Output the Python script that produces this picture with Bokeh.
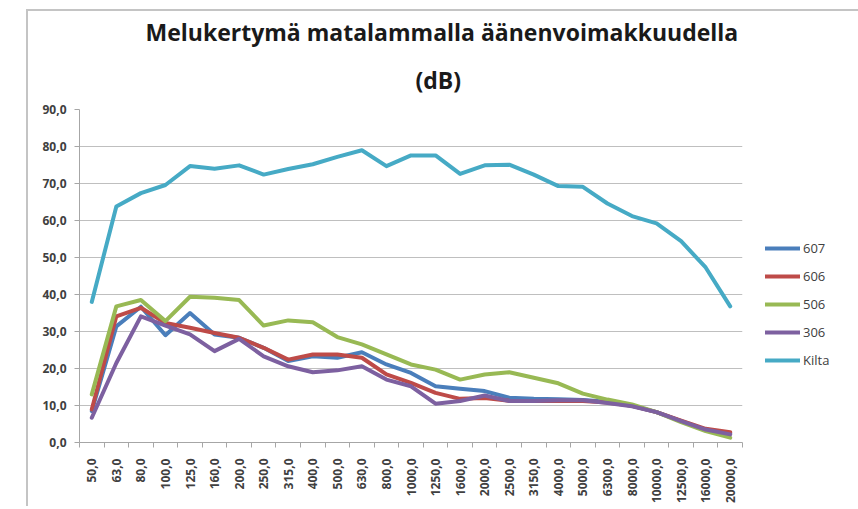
import math
from bokeh.plotting import figure
from bokeh.models import FixedTicker, Legend, LegendItem, Title
from bokeh.embed import file_html
from bokeh.resources import INLINE

# ---- data ----
freq_labels = ["50,0", "63,0", "80,0", "100,0", "125,0", "160,0", "200,0", "250,0",
               "315,0", "400,0", "500,0", "630,0", "800,0", "1000,0", "1250,0",
               "1600,0", "2000,0", "2500,0", "3150,0", "4000,0", "5000,0", "6300,0",
               "8000,0", "10000,0", "12500,0", "16000,0", "20000,0"]

s607 = [8.5, 31.4, 36.7, 29.0, 35.0, 29.2, 28.3, 25.6, 22.0, 23.3, 22.9, 24.4, 21.1, 18.8,
        15.2, 14.5, 13.9, 12.1, 11.8, 11.7, 11.5, 11.0, 9.9, 8.2, 5.8, 3.5, 2.5]
s606 = [8.9, 34.1, 36.4, 32.3, 31.0, 29.6, 28.3, 25.6, 22.4, 23.8, 23.8, 22.9, 18.4, 16.1,
        13.4, 11.8, 12.0, 11.3, 11.2, 11.2, 11.2, 10.8, 9.9, 8.2, 5.9, 3.7, 2.8]
s506 = [13.0, 36.8, 38.5, 32.8, 39.4, 39.1, 38.5, 31.6, 33.0, 32.5, 28.5, 26.5, 23.8, 21.1,
        19.7, 17.0, 18.4, 19.0, 17.5, 16.0, 13.2, 11.6, 10.3, 8.2, 5.5, 3.1, 1.3]
s306 = [6.7, 21.5, 34.1, 31.6, 29.2, 24.7, 28.0, 23.3, 20.6, 19.0, 19.5, 20.6, 17.0, 15.2,
        10.5, 11.2, 12.7, 11.2, 11.2, 11.4, 11.4, 10.7, 9.8, 8.2, 5.8, 3.5, 2.2]
kilta = [38.0, 63.8, 67.4, 69.6, 74.7, 74.0, 74.9, 72.4, 73.9, 75.2, 77.2, 79.0, 74.7, 77.6,
         77.6, 72.6, 74.9, 75.1, 72.4, 69.3, 69.1, 64.6, 61.2, 59.2, 54.4, 47.3, 36.8]

series_names = ["607", "606", "506", "306", "Kilta"]
series_values = [s607, s606, s506, s306, kilta]
series_colors = ["#4A7EBB", "#BE4B48", "#98B954", "#7D60A0", "#46AAC5"]

y_ticks = [0, 10, 20, 30, 40, 50, 60, 70, 80, 90]
y_tick_labels = ["0,0", "10,0", "20,0", "30,0", "40,0", "50,0", "60,0", "70,0", "80,0", "90,0"]

title_line1 = "Melukertymä matalammalla äänenvoimakkuudella"
title_line2 = "(dB)"

# ---- figure ----
n = len(freq_labels)
xs = list(range(n))

p = figure(width=822, height=489, frame_width=663, frame_height=333,
           output_backend="svg", toolbar_location=None,
           x_range=(-0.5, n - 0.5), y_range=(0, 90),
           min_border_left=51, min_border_right=108, min_border_top=98, min_border_bottom=58)
p.margin = (9, 0, 0, 26)
p.styles = {"border-left": "2px solid #C4C4C4", "border-top": "2px solid #C4C4C4"}
p.outline_line_color = None
p.background_fill_color = "white"
p.border_fill_color = "white"

# x axis
xa = p.xaxis[0]
xa.ticker = FixedTicker(ticks=xs, minor_ticks=[i - 0.5 for i in range(n + 1)])
xa.major_label_overrides = {i: lab for i, lab in enumerate(freq_labels)}
xa.major_label_orientation = math.pi / 2
xa.major_tick_out = 0
xa.major_tick_in = 0
xa.minor_tick_out = 5
xa.minor_tick_in = 0
xa.minor_tick_line_color = "#A6A6A6"
xa.axis_line_color = "#A6A6A6"
xa.major_label_standoff = 11
xa.major_label_text_font = "Open Sans"
xa.major_label_text_font_style = "bold"
xa.major_label_text_font_size = "12px"
xa.major_label_text_color = "#404040"

# y axis
ya = p.yaxis[0]
ya.ticker = FixedTicker(ticks=y_ticks)
ya.major_label_overrides = {t: lab for t, lab in zip(y_ticks, y_tick_labels)}
ya.major_tick_out = 5
ya.major_tick_in = 0
ya.minor_tick_out = 0
ya.minor_tick_in = 0
ya.major_tick_line_color = "#A6A6A6"
ya.axis_line_color = "#A6A6A6"
ya.major_label_standoff = 8
ya.major_label_text_font = "Open Sans"
ya.major_label_text_font_style = "bold"
ya.major_label_text_font_size = "12px"
ya.major_label_text_color = "#404040"

p.xgrid.grid_line_color = None
p.ygrid.grid_line_color = "#BFBFBF"
p.ygrid.grid_line_width = 1

items = []
for name, vals, col in zip(series_names, series_values, series_colors):
    r = p.line(xs, vals, line_color=col, line_width=4, line_join="round", line_cap="round")
    items.append(LegendItem(label=name, renderers=[r]))

legend = Legend(items=items, location="top_left", orientation="vertical",
                title=" ", title_text_font_size="10px", title_standoff=95,
                glyph_width=35, glyph_height=20, label_height=20, spacing=8,
                label_standoff=3, padding=0, margin=23,
                border_line_color=None, background_fill_alpha=0,
                label_text_font="Open Sans", label_text_font_size="13px",
                label_text_color="#404040")
p.add_layout(legend, "right")

p.title.visible = False
p.add_layout(Title(text=title_line2, align="left", offset=336, standoff=27,
                   text_font="Open Sans", text_font_style="bold", text_font_size="23px",
                   text_color="#1A1A1A"), "above")
p.add_layout(Title(text=title_line1, align="left", offset=66, standoff=2,
                   text_line_height=0.6,
                   text_font="Open Sans", text_font_style="bold", text_font_size="23px",
                   text_color="#1A1A1A"), "above")

open("out.html", "w").write(file_html(p, INLINE))
